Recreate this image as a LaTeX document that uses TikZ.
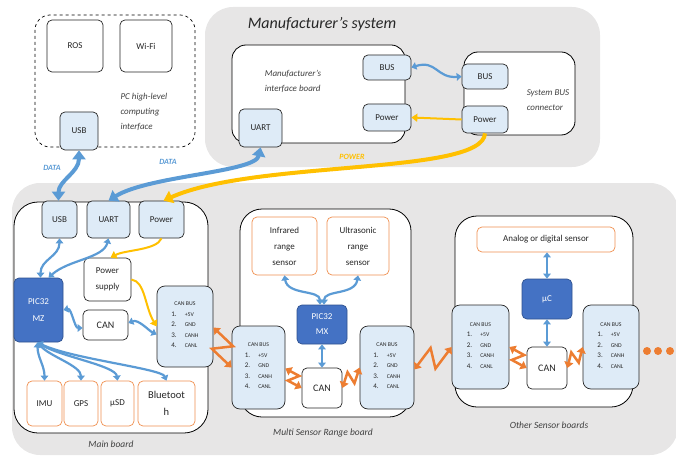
\documentclass[tikz,border=0pt]{standalone}
\usepackage{fontspec}
\setmainfont{Carlito}
\usetikzlibrary{arrows.meta,calc}

\definecolor{panelgray}{HTML}{E7E6E6}
\definecolor{lblue}{HTML}{DEEBF7}
\definecolor{dblue}{HTML}{4472C4}
\definecolor{dbluedraw}{HTML}{2F528F}
\definecolor{ablue}{HTML}{5B9BD5}
\definecolor{aorange}{HTML}{ED7D31}
\definecolor{agold}{HTML}{FFC000}
\definecolor{txt}{HTML}{262626}

\newcommand\pinnum[1]{\fontsize{7}{10.5}\selectfont #1}
% pin list printed inside every CAN BUS connector
\newcommand\canlist{CAN BUS\\[2pt]%
  \begin{tabular}{@{}l@{\hspace{8pt}}l@{}}
  \pinnum{1.} & +5V\\
  \pinnum{2.} & GND\\
  \pinnum{3.} & CANH\\
  \pinnum{4.} & CANL
  \end{tabular}}

% zig-zag (lightning) link between two points
\newcommand\boltlink[2]{\draw[bolt] (#1) -- ($(#1)!0.62!22:(#2)$) -- ($(#2)!0.62!22:(#1)$) -- (#2);}

\begin{document}
\begin{tikzpicture}[x=1pt,y=-1pt,
  box/.style={draw=black!85, line width=0.7, fill=white, rounded corners=5,
    inner sep=0, align=center, text=txt, font=\fontsize{9}{14}\selectfont},
  lbox/.style={box, fill=lblue},
  canbox/.style={lbox, rounded corners=8, font=\fontsize{5.8}{10.5}\selectfont},
  sensorbox/.style={box, draw=aorange!85},
  mcu/.style={box, fill=dblue, draw=dbluedraw, text=white},
  board/.style={draw=black, line width=0.8, fill=white, rounded corners=20},
  panel/.style={fill=panelgray, rounded corners=28},
  caption/.style={font=\itshape\fontsize{9}{15}\selectfont, text=black!75, align=left},
  wire/.style={draw=ablue, line width=2.2,
    {Triangle[length=5,width=7.5]}-{Triangle[length=5,width=7.5]}},
  bigwire/.style={draw=ablue, line width=4,
    {Triangle[length=9,width=13]}-{Triangle[length=9,width=13]}},
  feed/.style={draw=agold, line width=2, -{Triangle[length=6,width=8]}},
  bigfeed/.style={draw=agold, line width=4, -{Triangle[length=9,width=13]}},
  bolt/.style={draw=aorange, line width=2.5, line join=miter,
    {Triangle[length=6,width=9]}-{Triangle[length=6,width=9]}},
  tag/.style={font=\itshape\bfseries\fontsize{8}{9}\selectfont}
]
\useasboundingbox (0,0) rectangle (676,457);

% ---------------- panels ----------------
\fill[panel] (205,7) rectangle (600,167);
\fill[panel] (12,183) rectangle (678,455);

% ---------------- PC high-level computing interface ----------------
\draw[dashed, line width=0.7, rounded corners=15] (35,15) rectangle (195,147);
\node[box, minimum width=56, minimum height=52] (ros) at (75,46) {ROS};
\node[box, minimum width=52, minimum height=52] (wifi) at (146,46) {Wi-Fi};
\node[caption, anchor=west] (pclabel) at (117,112) {PC high-level\\computing\\interface};
\node[lbox, minimum width=38, minimum height=38] (pcusb) at (79,131) {USB};

% ---------------- Manufacturer's system ----------------
\node[font=\itshape\fontsize{16}{18}\selectfont, text=txt] (mtitle) at (322,24) {Manufacturer’s system};
\draw[board, rounded corners=14] (232,45) rectangle (405,143);
\draw[board, rounded corners=14] (464,52) rectangle (575,135);
\node[caption] (miblabel) at (293,81) {Manufacturer’s\\interface board};
\node[caption] (sbclabel) at (548,100) {System BUS\\connector};
\node[lbox, minimum width=48, minimum height=25] (busL) at (387,67.5) {BUS};
\node[lbox, minimum width=48, minimum height=27] (pwrL) at (387,117.5) {Power};
\node[lbox, minimum width=43, minimum height=38] (muart) at (260.5,128) {UART};
\node[lbox, minimum width=46, minimum height=25] (busR) at (485,76.5) {BUS};
\node[lbox, minimum width=46, minimum height=27] (pwrR) at (485,119.5) {Power};

% ---------------- Main board ----------------
\draw[board, rounded corners=24] (14,202) rectangle (208,433);
\node[caption, font=\itshape\fontsize{9.5}{15}\selectfont] (mainlabel) at (111,444) {Main board};
\node[lbox, minimum width=35, minimum height=37] (musb) at (59.5,219.5) {USB};
\node[lbox, minimum width=43, minimum height=37] (mbuart) at (108.5,219.5) {UART};
\node[lbox, minimum width=45, minimum height=37] (mbpwr) at (161.5,219.5) {Power};
\node[box, minimum width=47, minimum height=43, font=\fontsize{9}{16}\selectfont] (psup) at (107.5,279.5) {Power\\supply};
\node[mcu, minimum width=49, minimum height=64, font=\fontsize{9}{17}\selectfont] (pic) at (38.5,310) {PIC32\\MZ};
\node[box, minimum width=45, minimum height=30, font=\fontsize{10}{12}\selectfont] (mcan) at (105.5,325) {CAN};
\node[canbox, minimum width=56, minimum height=81] (mcb) at (185,326.5) {\canlist};
\node[sensorbox, minimum width=35, minimum height=45] (imu) at (44.5,403.5) {IMU};
\node[sensorbox, minimum width=34, minimum height=45] (gps) at (81,403.5) {GPS};
\node[sensorbox, minimum width=33, minimum height=45] (usd) at (117.5,403.5) {µSD};
\node[sensorbox, minimum width=57, minimum height=45, font=\fontsize{10.5}{17}\selectfont] (bt) at (166.5,403.5) {Bluetoot\\h};

% ---------------- Multi Sensor Range board ----------------
\draw[board, rounded corners=22] (240,209) rectangle (411,417);
\node[caption, font=\itshape\fontsize{9.5}{15}\selectfont] (msrlabel) at (323,433) {Multi Sensor Range board};
\node[sensorbox, minimum width=65, minimum height=58, font=\fontsize{9}{16}\selectfont] (ir) at (284.5,246) {Infrared\\range\\sensor};
\node[sensorbox, minimum width=62, minimum height=58, font=\fontsize{9}{16}\selectfont] (us) at (358,246) {Ultrasonic\\range\\sensor};
\node[mcu, minimum width=50, minimum height=39, font=\fontsize{9}{15}\selectfont] (pmx) at (322,324.5) {PIC32\\MX};
\node[box, minimum width=40, minimum height=40, font=\fontsize{10}{12}\selectfont] (mscan) at (322,388) {CAN};
\node[canbox, minimum width=53, minimum height=83] (mslcb) at (258.5,367.5) {\canlist};
\node[canbox, minimum width=54, minimum height=83] (msrcb) at (387,367.5) {\canlist};

% ---------------- Other sensor boards ----------------
\draw[board, rounded corners=22] (455,216) rectangle (633,407);
\node[caption, font=\itshape\fontsize{9.5}{15}\selectfont] (othlabel) at (549,425) {Other Sensor boards};
\node[sensorbox, minimum width=138, minimum height=25] (an) at (546,239.5) {Analog or digital sensor};
\node[mcu, minimum width=50, minimum height=40, font=\fontsize{9}{12}\selectfont] (uc) at (547,299) {µC};
\node[box, minimum width=40, minimum height=42, font=\fontsize{10}{12}\selectfont] (ocan) at (547,368) {CAN};
\node[canbox, minimum width=57, minimum height=84] (olcb) at (480.5,347) {\canlist};
\node[canbox, minimum width=56, minimum height=84] (orcb) at (611,347) {\canlist};
\foreach \dx in {647,658,670} \fill[aorange] (\dx,351) circle (4);

% ---------------- links between systems ----------------
\draw[bigwire] (pcusb.south) .. controls +(0,22) and +(0,-20) .. ([xshift=-1]musb.north);
\draw[bigwire] (muart.south) .. controls +(-5,25) and +(40,-25) .. (mbuart.north);
\draw[bigfeed] (pwrR.south) .. controls +(-2,42) and +(92,-41) .. ([xshift=2]mbpwr.north);
\draw[wire] (busL.east) .. controls +(25,-8) and +(-25,2) .. (busR.west);
\draw[feed] (pwrR.west) -- (pwrL.east);
\node[tag, text=ablue] (data1) at (52,168) {DATA};
\node[tag, text=ablue] (data2) at (168,162) {DATA};
\node[tag, text=agold] (powtag) at (352,157) {POWER};

% ---------------- main board links ----------------
\draw[wire] (musb.south) .. controls +(0,18) and +(0,-18) .. ([xshift=2]pic.north);
\draw[wire] (mbuart.south) .. controls +(-5,20) and +(20,-18) .. ([xshift=10]pic.north);
\draw[feed] (mbpwr.south) .. controls +(-5,12) and +(15,-8) .. ([xshift=3]psup.north);
\draw[feed] (psup.east) .. controls +(14,2) and +(-12,-20) .. (mcb.west);
\draw[wire] (pic.east) .. controls +(8,-2) and +(-8,0) .. ([yshift=-3]mcan.west);
\draw[wire] ([yshift=2]mcan.east) .. controls +(10,-4) and +(-8,-4) .. ([yshift=-8]mcb.west);
\draw[wire] ([xshift=-1]pic.south) .. controls +(0,15) and +(0,-15) .. (imu.north);
\draw[wire] ([xshift=-1]pic.south) .. controls +(12,14) and +(0,-15) .. (gps.north);
\draw[wire] ([xshift=-1]pic.south) .. controls +(22,14) and +(-2,-15) .. (usd.north);
\draw[wire] ([xshift=-1]pic.south) .. controls +(32,16) and +(-5,-12) .. (bt.north);

% ---------------- sensor range board links ----------------
\draw[wire] (ir.south) .. controls +(3,20) and +(0,-15) .. ([xshift=-2]pmx.north);
\draw[wire] (us.south) .. controls +(-3,20) and +(0,-15) .. ([xshift=2]pmx.north);
\draw[wire] (pmx.south) -- (mscan.north);
\boltlink{[yshift=-1]mslcb.east}{mscan.west}
\boltlink{mscan.east}{msrcb.west}
\boltlink{[yshift=-1]mcb.east}{mslcb.west}
\boltlink{[yshift=-2]msrcb.east}{olcb.west}

% ---------------- other sensor board links ----------------
\draw[wire] (an.south -| uc.north) -- (uc.north);
\draw[wire] (uc.south) -- (ocan.north);
\boltlink{olcb.east}{ocan.west}
\boltlink{ocan.east}{orcb.west}
\end{tikzpicture}
\end{document}
